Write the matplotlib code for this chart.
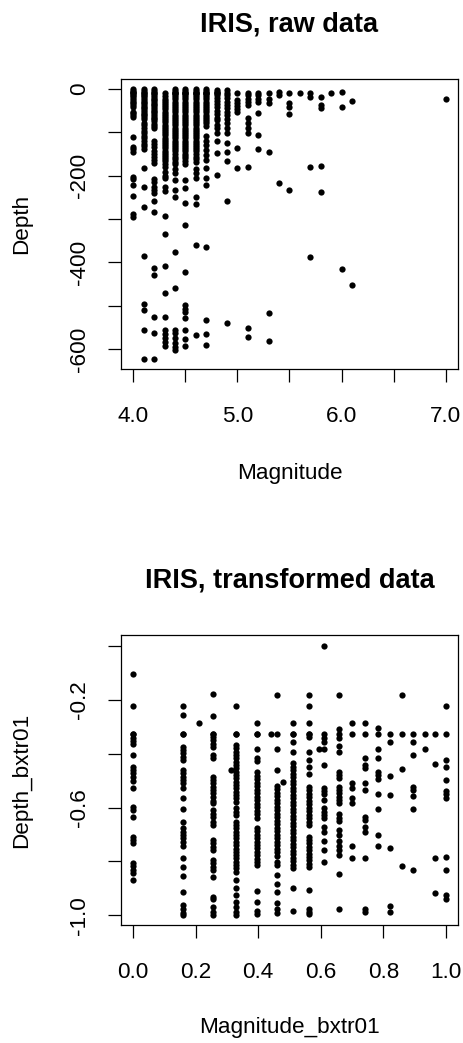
import matplotlib
matplotlib.use("Agg")
import matplotlib.pyplot as plt

W, H = 464, 1043

# --- raw data: depth values grouped by magnitude column ---
raw_mag = [4.0, 4.1, 4.2, 4.3, 4.4, 4.5, 4.6, 4.7, 4.8, 4.9, 5.0, 5.1, 5.2,
           5.3, 5.4, 5.5, 5.6, 5.7, 5.8, 5.9, 6.0, 6.1, 7.0]
raw_depth = [
    [-1, -4, -8, -10, -10, -13, -17, -21, -25, -29, -33, -37, -41, -52, -56, -60, -65,
     -110, -133, -139, -145, -202, -208, -222, -248, -289, -295],
    [-1, -5, -9, -10, -13, -17, -21, -25, -29, -33, -37, -41, -45, -49, -53, -57, -61,
     -65, -70, -78, -84, -90, -96, -102, -108, -114, -120, -126, -132, -138,
     -183, -225, -272, -385, -497, -510, -555, -623],
    [-1, -5, -9, -10, -14, -18, -22, -26, -30, -34, -38, -42, -46, -50, -54, -58, -62,
     -66, -70, -75, -80, -86, -90, -120, -128, -135, -142, -150, -157, -164, -170,
     -207, -215, -227, -233, -241, -258, -283, -412, -430, -527, -564, -623],
    [-10, -17, -22, -27, -32, -37, -42, -47, -52, -57, -62, -67, -72, -77, -82, -87,
     -92, -97, -102, -107, -112, -117, -122, -127, -132, -137, -142, -147, -152, -157,
     -162, -167, -172, -179, -192, -200, -206, -225, -236, -292, -334, -408, -471,
     -527, -556, -566, -575, -584, -594],
    [-1, -5, -9, -10, -10, -14, -19, -24, -29, -34, -39, -44, -49, -54, -59, -64, -69,
     -74, -79, -84, -89, -94, -99, -104, -109, -114, -119, -124, -129, -134, -139,
     -144, -150, -156, -162, -168, -172, -185, -193, -210, -233, -250, -377, -460,
     -555, -564, -575, -587, -595, -602],
    [-1, -5, -9, -10, -10, -14, -19, -24, -29, -34, -39, -44, -49, -54, -59, -64, -69,
     -74, -79, -84, -89, -94, -99, -104, -109, -114, -119, -124, -129, -134, -139,
     -144, -149, -154, -160, -166, -172, -210, -229, -264, -314, -423, -498, -507,
     -515, -529, -556, -577, -594],
    [-1, -5, -9, -10, -10, -14, -19, -24, -29, -34, -39, -44, -49, -54, -59, -64, -69,
     -74, -79, -84, -89, -94, -99, -104, -109, -114, -119, -124, -129, -134, -139,
     -144, -150, -156, -162, -168, -185, -194, -205, -250, -265, -360, -568],
    [-1, -5, -9, -10, -10, -14, -19, -24, -29, -34, -39, -44, -49, -54, -59, -64, -69,
     -74, -79, -86, -109, -120, -129, -141, -152, -163, -183, -206, -222, -364, -533,
     -566, -591],
    [-2, -6, -10, -10, -14, -20, -27, -34, -42, -50, -57, -66, -71, -82, -90, -101,
     -121, -148, -198],
    [-2, -10, -13, -21, -29, -37, -45, -52, -60, -70, -79, -91, -102, -125, -146, -167,
     -258, -540],
    [-9, -25, -32, -40, -47, -52, -136, -183],
    [-9, -15, -22, -29, -36, -67, -79, -90, -102, -181, -551, -573],
    [-9, -15, -22, -29, -55, -107, -138],
    [-9, -22, -32, -146, -516, -581],
    [-8, -14, -216],
    [-10, -33, -41, -58, -233],
    [-10],
    [-10, -18, -181, -387],
    [-18, -38, -44, -178, -238],
    [-10],
    [-6, -42, -416],
    [-28, -452],
    [-22],
]

# --- transformed data: Depth_bxtr01 grouped by Magnitude_bxtr01 column ---
bx_mag = [0.0, 0.158, 0.211, 0.254, 0.313, 0.330, 0.395, 0.441, 0.459, 0.478,
          0.512, 0.563, 0.595, 0.610, 0.657, 0.701, 0.743, 0.783, 0.822, 0.859,
          0.896, 0.932, 0.966, 1.0]
bx_depth = [
    [-0.105, -0.223, -0.327, -0.327, -0.340, -0.352, -0.364, -0.405, -0.448, -0.461,
     -0.473, -0.485, -0.501, -0.529, -0.597, -0.609, -0.634, -0.708, -0.720, -0.733,
     -0.805, -0.817, -0.832, -0.844, -0.869],
    [-0.223, -0.256, -0.327, -0.327, -0.374, -0.386, -0.399, -0.411, -0.423, -0.461,
     -0.473, -0.485, -0.498, -0.510, -0.526, -0.566, -0.605, -0.653, -0.677, -0.690,
     -0.702, -0.714, -0.727, -0.742, -0.789, -0.820, -0.853, -0.913, -0.960, -0.977,
     -0.993, -1.0],
    [-0.287],
    [-0.178, -0.259, -0.327, -0.327, -0.337, -0.349, -0.362, -0.374, -0.405, -0.417,
     -0.485, -0.498, -0.510, -0.523, -0.535, -0.547, -0.560, -0.575, -0.584, -0.609,
     -0.622, -0.634, -0.653, -0.665, -0.721, -0.733, -0.745, -0.758, -0.795, -0.807,
     -0.820, -0.832, -0.857, -0.931, -0.941, -0.968, -0.987, -1.0],
    [-0.461],
    [-0.223, -0.327, -0.327, -0.368, -0.380, -0.393, -0.405, -0.417, -0.430, -0.442,
     -0.454, -0.467, -0.479, -0.491, -0.504, -0.516, -0.529, -0.541, -0.553, -0.566,
     -0.578, -0.603, -0.615, -0.628, -0.653, -0.665, -0.677, -0.690, -0.702, -0.714,
     -0.727, -0.739, -0.752, -0.764, -0.776, -0.789, -0.801, -0.814, -0.826, -0.838,
     -0.869, -0.900, -0.925, -0.950, -0.968, -0.987, -0.999],
    [-0.287, -0.327, -0.327, -0.383, -0.415, -0.427, -0.469, -0.482, -0.495, -0.508,
     -0.521, -0.534, -0.547, -0.560, -0.573, -0.586, -0.599, -0.612, -0.625, -0.638,
     -0.675, -0.688, -0.700, -0.713, -0.726, -0.739, -0.751, -0.764, -0.777, -0.790,
     -0.802, -0.814, -0.910, -0.950, -0.984, -0.997],
    [-0.327],
    [-0.180, -0.327, -0.383, -0.461, -0.519, -0.532, -0.545, -0.558, -0.571, -0.584,
     -0.597, -0.610, -0.623, -0.636, -0.649, -0.662, -0.675, -0.688, -0.701, -0.714,
     -0.727, -0.740, -0.753, -0.766, -0.779, -0.801, -0.813, -0.851, -0.882, -0.913,
     -0.956, -0.975, -0.993],
    [-0.506],
    [-0.287, -0.327, -0.327, -0.358, -0.395, -0.436, -0.449, -0.462, -0.475, -0.488,
     -0.501, -0.514, -0.527, -0.540, -0.553, -0.566, -0.579, -0.592, -0.605, -0.618,
     -0.631, -0.644, -0.657, -0.670, -0.683, -0.696, -0.709, -0.722, -0.735, -0.748,
     -0.761, -0.774, -0.787, -0.800, -0.813, -0.826, -0.900, -0.984],
    [-0.180, -0.223, -0.287, -0.327, -0.327, -0.337, -0.395, -0.423, -0.448, -0.477,
     -0.523, -0.536, -0.549, -0.562, -0.575, -0.588, -0.601, -0.614, -0.627, -0.640,
     -0.653, -0.665, -0.708, -0.720, -0.733, -0.746, -0.758, -0.771, -0.783, -0.796,
     -0.808, -0.820, -0.906, -0.975, -0.987, -0.997],
    [-0.383],
    [0.0, -0.327, -0.343, -0.358, -0.383, -0.440, -0.526, -0.539, -0.551, -0.572,
     -0.603, -0.615, -0.628, -0.640, -0.671, -0.692, -0.724, -0.758, -0.801],
    [-0.180, -0.308, -0.327, -0.343, -0.370, -0.395, -0.467, -0.479, -0.491, -0.523,
     -0.535, -0.547, -0.560, -0.572, -0.584, -0.625, -0.638, -0.650, -0.683, -0.700,
     -0.724, -0.742, -0.758, -0.776, -0.848, -0.975],
    [-0.287, -0.327, -0.510, -0.529, -0.563, -0.584, -0.743, -0.786],
    [-0.287, -0.327, -0.417, -0.442, -0.452, -0.510, -0.535, -0.634, -0.646, -0.671,
     -0.690, -0.786, -0.975, -0.987],
    [-0.306, -0.327, -0.383, -0.417, -0.467, -0.479, -0.494, -0.551, -0.605, -0.702,
     -0.743],
    [-0.327, -0.355, -0.483, -0.553, -0.749, -0.965, -0.987],
    [-0.180, -0.327, -0.457, -0.817],
    [-0.327, -0.355, -0.405, -0.523, -0.535, -0.557, -0.605, -0.830],
    [-0.327, -0.383],
    [-0.327, -0.438, -0.786, -0.919],
    [-0.223, -0.327, -0.423, -0.451, -0.498, -0.539, -0.551, -0.563, -0.783, -0.832,
     -0.925, -0.940],
]

raw_xticks = [4.0, 4.5, 5.0, 5.5, 6.0, 6.5, 7.0]
raw_xlabels = ['4.0', '', '5.0', '', '6.0', '', '7.0']
raw_yticks = [0, -100, -200, -300, -400, -500, -600]
raw_ylabels = ['0', '', '-200', '', '-400', '', '-600']
bx_xticks = [0.0, 0.2, 0.4, 0.6, 0.8, 1.0]
bx_xlabels = ['0.0', '0.2', '0.4', '0.6', '0.8', '1.0']
bx_yticks = [0.0, -0.2, -0.4, -0.6, -0.8, -1.0]
bx_ylabels = ['', '-0.2', '', '-0.6', '', '-1.0']

plt.rcParams['font.family'] = ['Liberation Sans', 'DejaVu Sans']
FS = 16.2

fig = plt.figure(figsize=(W / 100, H / 100), dpi=100)


def px_axes(left, top, right, bottom):
    return fig.add_axes([left / W, 1 - bottom / H, (right - left) / W, (bottom - top) / H])


def px_text(x, y, s, **kw):
    fig.text(x / W, 1 - y / H, s, **kw)


def flatten(mags, cols):
    xs = [m for m, col in zip(mags, cols) for _ in col]
    ys = [v for col in cols for v in col]
    return xs, ys


def draw_panel(ax, xs, ys, xticks, xlabels, yticks, ylabels):
    ax.plot(xs, ys, linestyle='none', marker='o', markersize=4.5,
            markeredgewidth=0, color='black')
    ax.set_xticks(xticks, xlabels)
    ax.set_yticks(yticks, ylabels)
    ax.tick_params(axis='both', length=9.6, width=0.9, labelsize=FS, color='black')
    ax.tick_params(axis='x', pad=17)
    ax.tick_params(axis='y', pad=12.5)
    for lab in ax.get_yticklabels():
        lab.set_rotation(90)
        lab.set_va('center')
    for s in ax.spines.values():
        s.set_linewidth(0.9)


# top panel: raw data
ax1 = px_axes(121, 79, 458, 369)
x1, y1 = flatten(raw_mag, raw_depth)
draw_panel(ax1, x1, y1, raw_xticks, raw_xlabels, raw_yticks, raw_ylabels)
ax1.set_xlim(3.882, 7.119)
ax1.set_ylim(-646, 23)

# bottom panel: transformed data
ax2 = px_axes(121, 635, 458, 925)
x2, y2 = flatten(bx_mag, bx_depth)
draw_panel(ax2, x2, y2, bx_xticks, bx_xlabels, bx_yticks, bx_ylabels)
ax2.set_xlim(-0.039, 1.039)
ax2.set_ylim(-1.036, 0.041)

# titles and axis labels
px_text(289.5, 31.7, 'IRIS, raw data', ha='center', va='baseline',
        fontsize=19.5, fontweight='bold')
px_text(289.5, 479, 'Magnitude', ha='center', va='baseline', fontsize=FS)
px_text(27, 224, 'Depth', ha='center', va='baseline', fontsize=FS,
        rotation=90, rotation_mode='anchor')

px_text(289.5, 587.7, 'IRIS, transformed data', ha='center', va='baseline',
        fontsize=19.5, fontweight='bold')
px_text(289.5, 1033, 'Magnitude_bxtr01', ha='center', va='baseline', fontsize=FS)
px_text(27, 780, 'Depth_bxtr01', ha='center', va='baseline', fontsize=FS,
        rotation=90, rotation_mode='anchor')

fig.savefig('out.png', dpi=100)
